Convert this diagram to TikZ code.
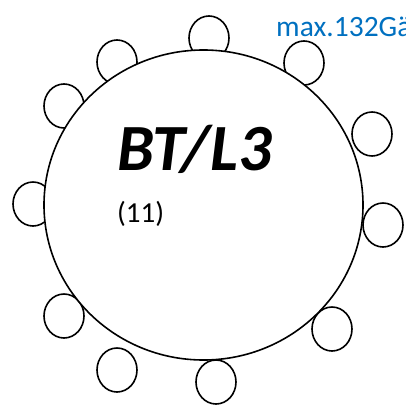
\documentclass[tikz,border=0pt]{standalone}
\usepackage{fontspec}
\newfontfamily\calibri{Carlito}
\usetikzlibrary{shapes.geometric}
\definecolor{officeblue}{RGB}{0,112,192}

\begin{document}
\begin{tikzpicture}[x=1pt, y=-1pt,
	p/.style = {ellipse, draw=black, fill=white, line width=1.6pt, minimum width=40, minimum height=44, inner sep=0},
	bt/.style = {ellipse, draw=black, fill=white, line width=1.6pt, minimum width=319, minimum height=310, inner sep=0},
	t/.style = {inner sep=0, anchor=base west, font=\calibri}
	]
	\useasboundingbox (0,0) rectangle (406,406);
	
	% === === Places === ===
	\node[p]	(p1)	at	(209, 38)	{};
	\node[p]	(p2)	at	(117, 62)	{};
	\node[p]	(p3)	at	(64, 106)	{};
	\node[p]	(p4)	at	(304, 63)	{};
	\node[p]	(p5)	at	(372, 134)	{};
	\node[p]	(p6)	at	(33, 204)	{};
	\node[p]	(p7)	at	(383, 225)	{};
	\node[p]	(p8)	at	(64, 316)	{};
	\node[p]	(p9)	at	(117, 370)	{};
	\node[p]	(p10)	at	(216, 382)	{};
	\node[p]	(p11)	at	(332, 329)	{};
	
	% === === Table === ===
	\node[bt]	(table)	at	(203.5, 205)	{};
	
	% === === Texts === ===
	\node[t, font=\calibri\bfseries\itshape\fontsize{66}{66}\selectfont]	(name)	at	(117, 170)	{BT/L3};
	\node[t, font=\calibri\fontsize{29}{29}\selectfont]	(count)	at	(117, 222)	{(11)};
	\node[t, font=\calibri\fontsize{29.5}{29.5}\selectfont, text=officeblue]	(max)	at	(276, 37)	{max.132Gä};
	
\end{tikzpicture}
\end{document}
